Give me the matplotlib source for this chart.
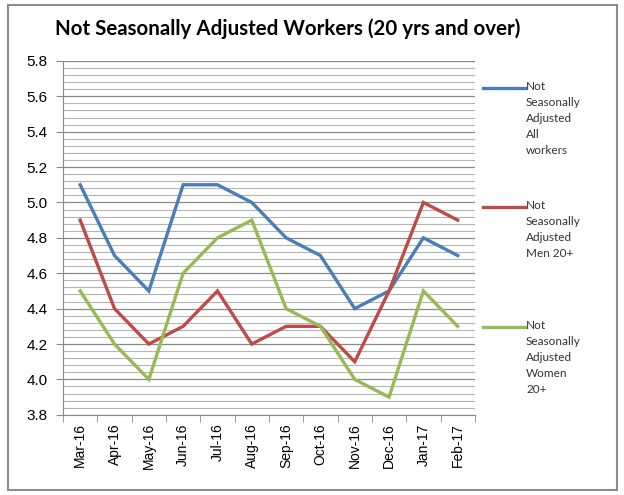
import matplotlib
matplotlib.use("Agg")
import matplotlib.pyplot as plt
from matplotlib.lines import Line2D
from matplotlib.patches import Rectangle
import numpy as np

# ---------------------------------------------------------
# data
# ---------------------------------------------------------
months = ["Mar-16", "Apr-16", "May-16", "Jun-16", "Jul-16", "Aug-16",
          "Sep-16", "Oct-16", "Nov-16", "Dec-16", "Jan-17", "Feb-17"]
all_workers = [5.1, 4.7, 4.5, 5.1, 5.1, 5.0, 4.8, 4.7, 4.4, 4.5, 4.8, 4.7]
men_20 = [4.9, 4.4, 4.2, 4.3, 4.5, 4.2, 4.3, 4.3, 4.1, 4.5, 5.0, 4.9]
women_20 = [4.5, 4.2, 4.0, 4.6, 4.8, 4.9, 4.4, 4.3, 4.0, 3.9, 4.5, 4.3]

series_labels = ["Not\nSeasonally\nAdjusted\nAll\nworkers",
                 "Not\nSeasonally\nAdjusted\nMen 20+",
                 "Not\nSeasonally\nAdjusted\nWomen\n20+"]
colors = ["#4A7EBB", "#BE4B48", "#98B954"]

# ---------------------------------------------------------
# figure
# ---------------------------------------------------------
fig = plt.figure(figsize=(6.24, 4.95), dpi=100)
fig.patches.append(Rectangle((0.013, 0.01), 0.975, 0.98, transform=fig.transFigure,
                             fill=False, edgecolor="#8c8c8c", linewidth=1.5))

ax = fig.add_axes([0.101, 0.162, 0.660, 0.715])
x = np.arange(len(months))

for vals, c in zip([all_workers, men_20, women_20], colors):
    ax.plot(x, vals, color=c, linewidth=2.4, solid_joinstyle="miter")

ax.set_xlim(-0.5, len(months) - 0.5)
ax.set_ylim(3.8, 5.8)
ax.set_yticks(np.arange(3.8, 5.81, 0.2))
ax.set_yticks(np.arange(3.8, 5.81, 0.04), minor=True)
ax.set_yticklabels([f"{v:.1f}" for v in np.arange(3.8, 5.81, 0.2)],
                   fontsize=11, family="Liberation Sans")
ax.set_xticks(x)
ax.set_xticklabels(months, rotation=90, fontsize=10, family="Liberation Sans")
ax.set_xticks(np.arange(-0.5, len(months), 1), minor=True)

ax.grid(axis="y", which="major", color="#8a8a8a", linewidth=0.9)
ax.grid(axis="y", which="minor", color="#b5b5b5", linewidth=0.8)
ax.set_axisbelow(True)

ax.tick_params(axis="x", which="major", length=0, pad=6)
ax.tick_params(axis="x", which="minor", length=5, color="#8a8a8a")
ax.tick_params(axis="y", which="major", length=5, color="#8a8a8a", pad=6)
ax.tick_params(axis="y", which="minor", length=0)
for side in ["top", "right"]:
    ax.spines[side].set_visible(False)
for side in ["left", "bottom"]:
    ax.spines[side].set_color("#8a8a8a")

fig.text(0.088, 0.943, "Not Seasonally Adjusted Workers (20 yrs and over)",
         fontsize=14.8, fontweight="bold", family="Lato", va="center")

# legend drawn by hand (Excel-style, right side)
legend_y = [0.822, 0.582, 0.340]
for lab, c, ly in zip(series_labels, colors, legend_y):
    fig.add_artist(Line2D([0.774, 0.842], [ly, ly], color=c, linewidth=2.4,
                          transform=fig.transFigure))
    fig.text(0.843, ly + 0.014, lab, fontsize=8.5, family="Lato", va="top",
             linespacing=1.55, color="#333333")

plt.savefig("out.png", dpi=100)
